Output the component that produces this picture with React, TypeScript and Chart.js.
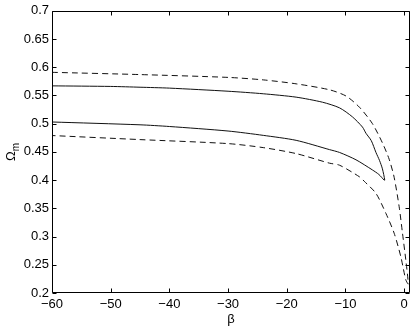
import React, { useEffect, useRef } from "react";
import { Chart, registerables } from "chart.js";

Chart.register(...registerables);

// Axis ticks
const xTicks = [-60, -50, -40, -30, -20, -10, 0];
const xTickLabels = ["−60", "−50", "−40", "−30", "−20", "−10", "0"];
const yTicks = [0.2, 0.25, 0.3, 0.35, 0.4, 0.45, 0.5, 0.55, 0.6, 0.65, 0.7];
const yTickLabels = ["0.2", "0.25", "0.3", "0.35", "0.4", "0.45", "0.5", "0.55", "0.6", "0.65", "0.7"];

// Inner (solid) contour: upper branch left -> tip, lower branch tip -> left
const innerUpperBeta = [-60, -50, -45, -40, -30, -24, -18.4, -13.9, -11, -8.8, -7.1, -6.5, -5.6, -4.8, -4.2, -3.7, -3.3];
const innerUpperOmega = [0.567, 0.566, 0.5646, 0.563, 0.5575, 0.553, 0.547, 0.538, 0.528, 0.512, 0.494, 0.483, 0.47, 0.449, 0.435, 0.42, 0.4];
const innerLowerBeta = [-3.4, -4.3, -5.4, -8.2, -11, -12.7, -18.4, -24, -30, -40, -45, -60];
const innerLowerOmega = [0.4, 0.41, 0.418, 0.436, 0.449, 0.454, 0.4705, 0.4793, 0.487, 0.495, 0.498, 0.503];

// Outer (dashed) contour: upper branch left -> bottom, lower branch bottom -> left
const outerUpperBeta = [-60, -45, -30, -24, -18.4, -12.7, -9.9, -7.6, -5.4, -3.7, -2.55, -1.7, -0.85, -0.28, 0.28, 0.7];
const outerUpperOmega = [0.591, 0.587, 0.582, 0.5776, 0.5706, 0.56, 0.549, 0.529, 0.5, 0.466, 0.437, 0.405, 0.353, 0.306, 0.259, 0.216];
const outerLowerBeta = [0.28, -0.57, -1.7, -3.1, -4.8, -6.8, -7.6, -11, -12.7, -18.4, -24, -30, -45, -60];
const outerLowerOmega = [0.2235, 0.2646, 0.306, 0.341, 0.3765, 0.398, 0.4058, 0.4264, 0.43, 0.447, 0.4576, 0.4647, 0.4718, 0.479];

const toPoints = (xs: number[], ys: number[]) => xs.map((x, i) => ({ x, y: ys[i] }));

const FONT = '"Liberation Sans", Arial, Helvetica, sans-serif';

const framePlugin = {
  id: "frame",
  afterDraw(chart: any) {
    const { ctx, chartArea, scales } = chart;
    const { left, right, top, bottom } = chartArea;
    const L = Math.round(left) + 0.5;
    const R = Math.round(right) - 0.5;
    const T = Math.round(top) + 0.5;
    const B = Math.round(bottom) - 0.5;
    ctx.save();
    ctx.strokeStyle = "#000";
    ctx.lineWidth = 1;
    ctx.beginPath();
    ctx.rect(L, T, R - L, B - T);
    ctx.stroke();
    const tl = 4;
    ctx.beginPath();
    for (const v of xTicks) {
      const px = Math.round(scales.x.getPixelForValue(v)) + 0.5;
      ctx.moveTo(px, B);
      ctx.lineTo(px, B - tl);
      ctx.moveTo(px, T);
      ctx.lineTo(px, T + tl);
    }
    for (const v of yTicks) {
      const py = Math.round(scales.y.getPixelForValue(v)) + 0.5;
      ctx.moveTo(L, py);
      ctx.lineTo(L + tl, py);
      ctx.moveTo(R, py);
      ctx.lineTo(R - tl, py);
    }
    ctx.stroke();

    // y-axis title: Omega with subscript m
    const cy = (top + bottom) / 2;
    ctx.translate(15, cy);
    ctx.rotate(-Math.PI / 2);
    ctx.fillStyle = "#000";
    ctx.textBaseline = "alphabetic";
    ctx.textAlign = "left";
    ctx.font = `13px ${FONT}`;
    const wO = ctx.measureText("Ω").width;
    ctx.font = `10px ${FONT}`;
    const wm = ctx.measureText("m").width;
    const start = -(wO + wm) / 2;
    ctx.font = `13px ${FONT}`;
    ctx.fillText("Ω", start, 0);
    ctx.font = `10px ${FONT}`;
    ctx.fillText("m", start + wO, 4);
    ctx.restore();
  },
};

export default function App() {
  const ref = useRef<HTMLCanvasElement | null>(null);

  useEffect(() => {
    if (!ref.current) return;
    const chart = new Chart(ref.current, {
      type: "scatter",
      data: {
        datasets: [
          {
            label: "inner",
            data: [...toPoints(innerUpperBeta, innerUpperOmega), ...toPoints(innerLowerBeta, innerLowerOmega)],
            showLine: true,
            borderColor: "#111",
            borderWidth: 1,
            pointRadius: 0,
            tension: 0.25,
            fill: false,
          },
          {
            label: "outer",
            data: [...toPoints(outerUpperBeta, outerUpperOmega), ...toPoints(outerLowerBeta, outerLowerOmega)],
            showLine: true,
            borderColor: "#111",
            borderWidth: 1,
            borderDash: [6, 4],
            pointRadius: 0,
            tension: 0.25,
            fill: false,
          },
        ],
      },
      options: {
        animation: false,
        responsive: false,
        maintainAspectRatio: false,
        layout: { padding: { left: 0, right: 4, top: 10, bottom: 0 } },
        plugins: { legend: { display: false }, tooltip: { enabled: false } },
        scales: {
          x: {
            type: "linear",
            min: -60,
            max: 1,
            afterBuildTicks: (s: any) => {
              s.ticks = xTicks.map((v) => ({ value: v }));
            },
            afterFit: (s: any) => {
              s.height = 38;
            },
            grid: { display: false, drawTicks: false },
            border: { display: false },
            ticks: {
              padding: 4,
              color: "#000",
              font: { family: FONT, size: 13 },
              maxRotation: 0,
              autoSkip: false,
              callback: (v: any) => {
                const i = xTicks.indexOf(Number(v));
                return i >= 0 ? xTickLabels[i] : "";
              },
            },
            title: {
              display: true,
              text: "β",
              color: "#000",
              font: { family: FONT, size: 13 },
              padding: { top: 4, bottom: 4 },
            },
          },
          y: {
            type: "linear",
            min: 0.2,
            max: 0.7,
            afterBuildTicks: (s: any) => {
              s.ticks = yTicks.map((v) => ({ value: v }));
            },
            afterFit: (s: any) => {
              s.width = 52;
            },
            grid: { display: false, drawTicks: false },
            border: { display: false },
            ticks: {
              padding: 3,
              color: "#000",
              font: { family: FONT, size: 13 },
              autoSkip: false,
              callback: (v: any) => {
                const i = yTicks.findIndex((t) => Math.abs(t - Number(v)) < 1e-9);
                return i >= 0 ? yTickLabels[i] : "";
              },
            },
          },
        },
      },
      plugins: [framePlugin],
    });
    return () => chart.destroy();
  }, []);

  return (
    <div style={{ position: "fixed", left: 0, top: 0, width: 414, height: 331, background: "#fff" }}>
      <canvas ref={ref} width={414} height={331} style={{ width: 414, height: 331, display: "block" }} />
    </div>
  );
}
